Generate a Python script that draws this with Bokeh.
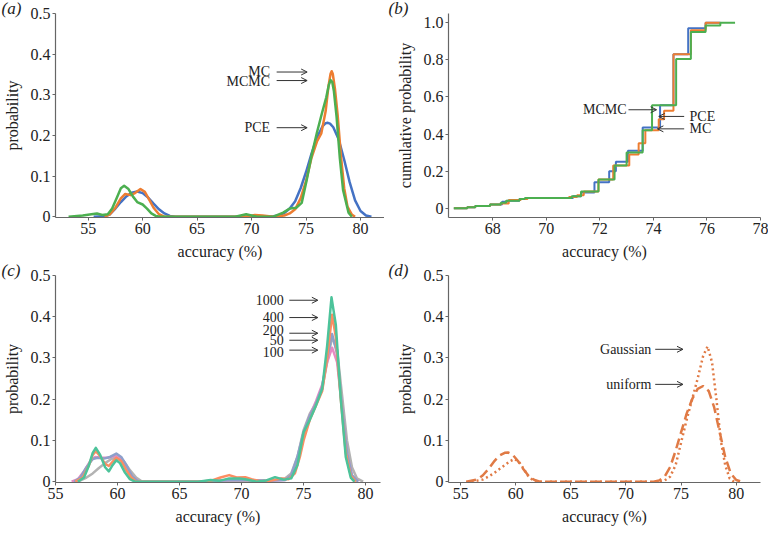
from bokeh.plotting import figure
from bokeh.layouts import column, row
from bokeh.models import Range1d, Arrow, OpenHead, FixedTicker
from bokeh.core.properties import value
from bokeh.embed import file_html
from bokeh.resources import INLINE

# ---------------- data ----------------
a_pce_x = [55.5, 56.5, 57.0, 57.5, 58.0, 58.5, 59.0, 59.5, 60.0, 60.5, 61.0, 61.5, 62.0, 62.5, 63.0, 70.0,
           72.0, 72.5, 73.0, 73.5, 74.0, 74.5, 75.0, 75.5, 76.0, 76.5, 76.8, 77.0, 77.2, 77.5, 78.0, 78.5, 79.0, 79.5, 80.0, 80.5, 81.0]
a_pce_y = [0, 0.001, 0.006, 0.02, 0.036, 0.05, 0.059, 0.062, 0.058, 0.047, 0.032, 0.018, 0.008, 0.002, 0, 0,
           0.001, 0.003, 0.009, 0.02, 0.038, 0.07, 0.11, 0.155, 0.195, 0.222, 0.23, 0.231, 0.229, 0.22, 0.19, 0.14, 0.085, 0.04, 0.014, 0.003, 0]
a_mc_x = [56.5, 57.0, 57.5, 58.0, 58.4, 58.9, 59.3, 59.8, 60.2, 60.6, 61.0, 61.5, 62.0, 69.5, 70.3, 71.0, 72.0,
          73.0, 73.5, 74.0, 74.5, 75.0, 75.5, 76.0, 76.4, 76.8, 77.05, 77.25, 77.35, 77.45, 77.65, 77.9, 78.2, 78.5, 78.8, 79.2, 79.5]
a_mc_y = [0, 0.006, 0.022, 0.045, 0.056, 0.053, 0.058, 0.068, 0.061, 0.042, 0.022, 0.006, 0, 0, 0.004, 0.003, 0,
          0.003, 0.008, 0.018, 0.045, 0.088, 0.145, 0.185, 0.205, 0.26, 0.32, 0.352, 0.358, 0.352, 0.315, 0.25, 0.15, 0.07, 0.025, 0.005, 0]
a_mcmc_x = [53.2, 54.5, 55.3, 55.8, 56.3, 56.8, 57.2, 57.6, 58.0, 58.3, 58.7, 59.1, 59.5, 60.0, 60.4, 60.8, 61.2, 61.6,
            68.5, 69.5, 70.5, 72.0, 72.9, 73.5, 74.1, 74.6, 75.05, 75.5, 76.0, 76.45, 76.85, 77.1, 77.25, 77.4, 77.55, 77.8, 78.1, 78.4, 78.9, 79.2]
a_mcmc_y = [0, 0.003, 0.006, 0.008, 0.004, 0.006, 0.02, 0.045, 0.07, 0.076, 0.068, 0.05, 0.036, 0.03, 0.02, 0.008, 0.002, 0,
            0, 0.006, 0, 0, 0.01, 0.02, 0.022, 0.034, 0.089, 0.15, 0.207, 0.254, 0.293, 0.325, 0.336, 0.332, 0.31, 0.246, 0.144, 0.065, 0.01, 0]

b_pce_x = [66.55, 67.05, 67.35, 67.9, 68.35, 68.55, 69.0, 69.25, 71.0, 71.3, 71.8, 72.35, 72.6, 73.05, 73.6, 74.25, 74.75, 75.3, 75.95, 76.5]
b_pce_y = [0, 0.005, 0.012, 0.02, 0.035, 0.04, 0.05, 0.055, 0.065, 0.085, 0.14, 0.2, 0.25, 0.31, 0.435, 0.555, 0.83, 0.97, 1.0, 1.0]
b_mc_x = [66.55, 67.05, 67.35, 67.9, 68.3, 68.6, 69.05, 69.3, 70.85, 71.15, 71.4, 71.95, 72.5, 73.1, 73.45, 73.7, 74.2, 74.4, 74.75, 75.4, 75.95, 76.5]
b_mc_y = [0, 0.005, 0.012, 0.02, 0.025, 0.045, 0.05, 0.055, 0.06, 0.07, 0.09, 0.155, 0.23, 0.29, 0.35, 0.42, 0.48, 0.525, 0.83, 0.96, 1.0, 1.0]
b_mcmc_x = [66.55, 67.05, 67.35, 67.9, 68.3, 68.5, 69.0, 69.2, 70.95, 71.3, 71.95, 72.55, 73.0, 73.6, 73.95, 74.85, 75.4, 75.95, 76.5, 77.05]
b_mcmc_y = [0, 0.005, 0.012, 0.02, 0.03, 0.04, 0.05, 0.055, 0.065, 0.09, 0.155, 0.23, 0.3, 0.42, 0.555, 0.805, 0.95, 0.985, 1.0, 1.0]

c_50_x = [56.8, 57.5, 58.0, 58.5, 59.0, 59.5, 60.0, 60.5, 61.0, 61.5, 62.0, 68.0, 72.0, 73.5, 74.0, 74.5, 75.0, 75.5, 76.0, 76.5,
          76.9, 77.3, 77.7, 78.1, 78.5, 78.9, 79.3, 79.8]
c_50_y = [0, 0.01, 0.02, 0.033, 0.045, 0.055, 0.06, 0.05, 0.028, 0.01, 0, 0, 0.002, 0.008, 0.02, 0.06, 0.125, 0.165, 0.19, 0.225,
          0.29, 0.35, 0.32, 0.21, 0.1, 0.035, 0.008, 0]
c_100_x = [56.3, 56.8, 57.3, 57.8, 58.2, 58.7, 59.2, 59.8, 60.3, 60.8, 61.2, 61.7, 67.0, 69.0, 70.5, 72.0, 73.5, 74.0, 74.5,
           75.0, 75.5, 76.0, 76.5, 76.9, 77.3, 77.7, 78.1, 78.5, 78.9, 79.4]
c_100_y = [0, 0.006, 0.025, 0.05, 0.06, 0.058, 0.058, 0.063, 0.055, 0.032, 0.012, 0, 0, 0.004, 0.004, 0.002, 0.004, 0.015, 0.055,
           0.115, 0.16, 0.195, 0.235, 0.29, 0.325, 0.29, 0.18, 0.07, 0.015, 0]
c_200_x = [56.5, 57.0, 57.5, 58.0, 58.4, 58.9, 59.4, 59.9, 60.3, 60.8, 61.2, 61.7, 67.0, 69.0, 70.5, 72.0, 73.5, 74.0, 74.5,
           75.0, 75.5, 76.0, 76.5, 76.9, 77.3, 77.7, 78.1, 78.5, 78.9, 79.4]
c_200_y = [0, 0.01, 0.035, 0.055, 0.058, 0.056, 0.06, 0.068, 0.06, 0.035, 0.012, 0, 0, 0.004, 0.004, 0.002, 0.004, 0.015, 0.06,
           0.12, 0.16, 0.19, 0.23, 0.3, 0.358, 0.31, 0.18, 0.07, 0.015, 0]
c_400_x = [56.6, 57.2, 57.7, 58.0, 58.25, 58.6, 59.0, 59.3, 59.6, 59.9, 60.3, 60.7, 61.1, 61.5, 66.5, 67.5, 68.3, 69.0, 69.6,
           70.3, 70.8, 71.5, 72.3, 73.2, 73.8, 74.3, 74.7, 75.0, 75.5, 76.0, 76.5, 76.9, 77.3, 77.6, 78.0, 78.4, 78.8, 79.2]
c_400_y = [0, 0.01, 0.04, 0.065, 0.074, 0.062, 0.043, 0.038, 0.048, 0.058, 0.05, 0.028, 0.01, 0, 0, 0.002, 0.01, 0.016, 0.01,
           0.011, 0.006, 0.001, 0.002, 0.008, 0.006, 0.02, 0.06, 0.1, 0.15, 0.185, 0.22, 0.3, 0.405, 0.35, 0.2, 0.07, 0.015, 0]
c_1000_x = [56.8, 57.3, 57.7, 58.0, 58.25, 58.6, 59.0, 59.3, 59.6, 59.9, 60.2, 60.6, 61.0, 61.4, 66.5, 67.5, 68.2, 69.0, 69.8,
            70.3, 71.2, 72.0, 72.7, 73.4, 74.0, 74.5, 75.0, 75.5, 76.0, 76.5, 76.9, 77.25, 77.6, 78.0, 78.4, 78.8, 79.1]
c_1000_y = [0, 0.01, 0.04, 0.07, 0.082, 0.065, 0.035, 0.025, 0.04, 0.052, 0.045, 0.022, 0.006, 0, 0, 0.004, 0.002, 0.008, 0.008,
            0.006, 0, 0.003, 0.011, 0.005, 0.008, 0.04, 0.12, 0.15, 0.185, 0.225, 0.33, 0.447, 0.38, 0.2, 0.06, 0.01, 0]

d_uniform_x = [55.5, 56.5, 57.0, 57.5, 58.0, 58.5, 59.0, 59.3, 59.7, 60.2, 60.7, 61.2, 61.7, 62.2, 72.5, 73.0, 73.5, 74.0, 74.5,
               75.0, 75.5, 76.0, 76.5, 77.0, 77.5, 78.0, 78.5, 79.0, 79.5, 80.0, 80.5]
d_uniform_y = [0, 0.005, 0.015, 0.03, 0.048, 0.063, 0.07, 0.071, 0.066, 0.05, 0.03, 0.013, 0.004, 0, 0, 0.003, 0.012, 0.035, 0.075,
               0.12, 0.165, 0.2, 0.225, 0.232, 0.22, 0.18, 0.12, 0.06, 0.02, 0.004, 0]
d_gauss_x = [56.0, 57.0, 57.5, 58.0, 58.5, 59.0, 59.5, 59.9, 60.3, 60.7, 61.1, 61.5, 62.0, 73.0, 73.5, 74.0, 74.5, 75.0, 75.5,
             76.0, 76.5, 77.0, 77.4, 77.8, 78.2, 78.6, 79.0, 79.4, 79.8]
d_gauss_y = [0, 0.005, 0.012, 0.02, 0.03, 0.04, 0.05, 0.055, 0.048, 0.032, 0.015, 0.005, 0, 0, 0.003, 0.012, 0.04, 0.095, 0.15,
             0.2, 0.25, 0.305, 0.328, 0.29, 0.2, 0.1, 0.04, 0.008, 0]

dens_xticks = [55, 60, 65, 70, 75, 80]
dens_yticks = [0, 0.1, 0.2, 0.3, 0.4, 0.5]
cdf_xticks = [68, 70, 72, 74, 76, 78]
cdf_yticks = [0, 0.2, 0.4, 0.6, 0.8, 1.0]

a_notes = [("MC", 71.7, 0.358, 72.3, 75.1, 0.356),
           ("MCMC", 71.7, 0.333, 72.3, 75.1, 0.335),
           ("PCE", 71.7, 0.219, 72.3, 75.1, 0.219)]
b_notes = [("MCMC", 73.0, 0.531, 73.07, 74.12, 0.531, "right"),
           ("PCE", 75.35, 0.495, 75.15, 74.2, 0.495, "left"),
           ("MC", 75.35, 0.428, 75.15, 74.15, 0.428, "left")]
c_notes = [("1000", 73.4, 0.440, 73.85, 76.15, 0.440),
           ("400", 73.4, 0.400, 73.85, 76.15, 0.398),
           ("200", 73.4, 0.367, 73.85, 76.15, 0.360),
           ("50", 73.4, 0.343, 73.85, 76.15, 0.343),
           ("100", 73.4, 0.314, 73.85, 76.15, 0.319)]
d_notes = [("Gaussian", 72.3, 0.321, 72.65, 75.17, 0.321),
           ("uniform", 72.3, 0.236, 72.65, 75.17, 0.236)]

letters = ["(a)", "(b)", "(c)", "(d)"]

# ---------------- styling ----------------
SERIF = "Liberation Serif"
TXT = "#222222"
AX = "#666666"
BLUE, ORANGE, GREEN = "#4472c4", "#ed7d31", "#4caf50"


def make_fig(w, h, xr, yr, xticks, yticks, ytitle, left, right, top, bottom, letter, letter_off):
    p = figure(width=w, height=h, x_range=Range1d(*xr), y_range=Range1d(*yr),
               output_backend="svg", toolbar_location=None,
               min_border_left=left, min_border_right=right,
               min_border_top=top, min_border_bottom=bottom)
    p.outline_line_color = None
    p.grid.visible = False
    p.background_fill_color = "white"
    p.border_fill_color = "white"
    for ax in (p.xaxis[0], p.yaxis[0]):
        ax.axis_line_color = AX
        ax.axis_line_width = 1.2
        ax.major_tick_line_color = AX
        ax.major_tick_out = 3
        ax.major_tick_in = 0
        ax.minor_tick_line_color = None
        ax.major_label_text_font = SERIF
        ax.major_label_text_font_size = "16px"
        ax.major_label_text_color = TXT
        ax.major_label_standoff = 2
        ax.axis_label_text_font = SERIF
        ax.axis_label_text_font_size = "16px"
        ax.axis_label_text_font_style = "normal"
        ax.axis_label_text_color = TXT
    p.xaxis.ticker = FixedTicker(ticks=xticks, minor_ticks=[])
    p.yaxis.ticker = FixedTicker(ticks=yticks, minor_ticks=[])
    p.yaxis.major_label_overrides = {0: "0", 1: "1.0"}
    p.xaxis.axis_label = "accuracy (%)"
    p.yaxis.axis_label = ytitle
    p.xaxis.axis_label_standoff = 6
    p.yaxis.axis_label_standoff = 7
    # panel letter as a left-aligned title pulled to the top-left corner
    p.title.text = letter
    p.title.align = "left"
    p.title.offset = letter_off
    p.title.standoff = -8
    p.title.text_font = SERIF
    p.title.text_font_size = "17px"
    p.title.text_font_style = "italic"
    p.title.text_color = TXT
    return p


def add_note(p, label, tx, ty, x0, x1, ay, align="right"):
    p.text(x=[tx], y=[ty], text=[label], text_font=value(SERIF), text_font_size="14px",
           text_color=TXT, text_align=align, text_baseline="middle")
    p.add_layout(Arrow(x_start=x0, y_start=ay, x_end=x1, y_end=ay, line_color="#333333", line_width=1,
                       end=OpenHead(size=6, line_color="#333333", line_width=1)))


# (a)
pa = make_fig(384, 262, (52.0, 82.2), (-0.002, 0.5), dens_xticks, dens_yticks, "probability",
              54, 0, 8, 44, letters[0], -54)
pa.line(a_pce_x, a_pce_y, line_color=BLUE, line_width=2.5, line_join="round")
pa.line(a_mc_x, a_mc_y, line_color=ORANGE, line_width=2.5, line_join="round")
pa.line(a_mcmc_x, a_mcmc_y, line_color=GREEN, line_width=2.5, line_join="round")
for n in a_notes:
    add_note(pa, *n)

# (b)
pb = make_fig(384, 262, (66.35, 78.0), (-0.05, 1.05), cdf_xticks, cdf_yticks, "cumulative probability",
              64, 8, 8, 44, letters[1], -60)
pb.step(b_pce_x, b_pce_y, mode="after", line_color=BLUE, line_width=2)
pb.step(b_mc_x, b_mc_y, mode="after", line_color=ORANGE, line_width=2)
pb.step(b_mcmc_x, b_mcmc_y, mode="after", line_color=GREEN, line_width=2)
for n in b_notes:
    add_note(pb, *n)

# (c)
pc = make_fig(384, 265, (55.0, 81.2), (-0.002, 0.5), dens_xticks, dens_yticks, "probability",
              54, 4, 12, 44, letters[2], -54)
for xs, ys, col in [(c_50_x, c_50_y, "#b3b3b3"), (c_100_x, c_100_y, "#e78ac3"), (c_200_x, c_200_y, "#8da0cb"),
                    (c_400_x, c_400_y, "#fc8d62"), (c_1000_x, c_1000_y, "#4cc39a")]:
    pc.line(xs, ys, line_color=col, line_width=2.5, line_join="round")
for n in c_notes:
    add_note(pc, *n)

# (d)
pd_ = make_fig(384, 265, (53.9, 82.2), (-0.002, 0.5), dens_xticks, dens_yticks, "probability",
               64, 8, 12, 44, letters[3], -60)
pd_.line(d_uniform_x, d_uniform_y, line_color="#e07a45", line_width=2.5, line_dash="10 5")
pd_.line(d_gauss_x, d_gauss_y, line_color="#e07a45", line_width=2.5, line_dash="2 3")
for n in d_notes:
    add_note(pd_, *n)

layout = column(row(pa, pb), row(pc, pd_))
open("out.html", "w").write(file_html(layout, INLINE))
